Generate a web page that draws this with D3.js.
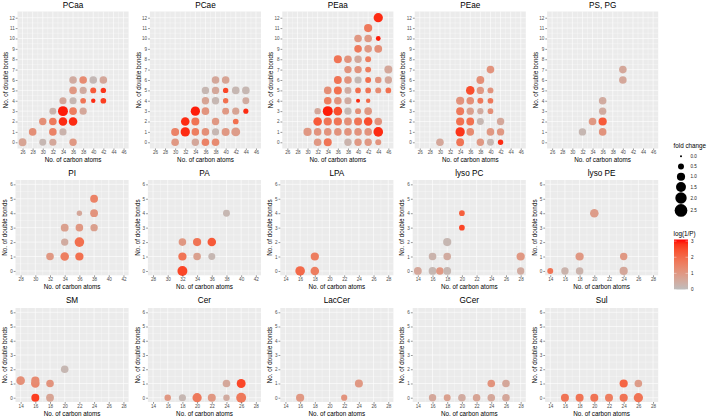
<!DOCTYPE html>
<html><head><meta charset="utf-8">
<script src="https://cdn.jsdelivr.net/npm/d3@7"></script>
<style>
body{margin:0;background:#fff}
svg{display:block}
text{font-family:"Liberation Sans",Arial,Helvetica,sans-serif}
</style>
</head><body>
<svg id="chart" width="709" height="417"></svg>
<script>
// ---------- DATA: [carbon atoms, double bonds, fold change, log(1/P)] ----------
const PCaa = [
 [36,6,.85,.5],[38,6,.85,1.3],[40,6,.85,.15],[42,6,.85,.6],
 [36,5,.85,1.0],[38,5,.75,.5],[40,5,.5,2.3],[42,5,.4,2.8],
 [34,4,.75,.6],[36,4,.75,.2],[38,4,.45,1.8],[40,4,.25,2.9],[42,4,.45,2.7],
 [32,3,.7,.3],[34,3,1.5,3.0],[36,3,.85,1.6],[38,3,.75,.6],
 [30,2,.8,1.2],[32,2,.85,1.7],[34,2,1.1,2.9],[36,2,1.1,2.9],
 [28,1,.85,1.2],[32,1,.85,1.5],[34,1,.75,.3],
 [26,0,.9,.7],[30,0,.7,.2],[32,0,.75,.6],[36,0,.8,1.0]
];
const PCae = [
 [38,6,.85,.6],[40,6,.85,.7],
 [36,5,.8,.2],[38,5,.8,.6],[40,5,.4,2.6],[42,5,.85,.2],[44,5,.85,.2],
 [36,4,.8,.7],[38,4,.8,.2],[40,4,.4,1.9],[44,4,.7,.5],
 [34,3,1.3,3.0],[36,3,.85,1.1],[40,3,.7,1.0],[42,3,.75,.7],[44,3,.35,2.9],
 [32,2,1.1,2.9],[34,2,.95,1.8],[38,2,.8,1.0],[42,2,.45,1.9],
 [30,1,.95,1.5],[32,1,1.3,2.9],[34,1,.85,1.6],[36,1,.85,1.2],[38,1,.75,.2],[40,1,.95,1.0],[42,1,1.2,.9],
 [30,0,.85,1.0],[34,0,.8,.6],[36,0,.85,1.5],[38,0,.85,1.3]
];
const PEaa = [
 [44,12,1.3,2.9],
 [42,11,1.0,1.7],
 [40,10,.85,1.0],[42,10,.85,1.0],[44,10,.3,3.0],
 [40,9,.85,1.7],[42,9,.85,1.0],[44,9,.9,1.2],
 [36,8,.95,1.8],[38,8,.85,1.1],[40,8,.8,.6],[42,8,.5,1.6],
 [38,7,.8,1.1],[40,7,.8,1.1],[42,7,.5,1.6],[46,7,.95,.6],
 [36,6,.9,1.8],[38,6,.85,1.1],[40,6,.75,.2],[42,6,.5,1.9],[44,6,.6,1.1],[46,6,.8,.6],
 [34,5,.85,1.2],[36,5,.95,1.9],[38,5,.7,.5],[40,5,.45,1.9],[42,5,.45,1.8],[44,5,.5,1.3],[46,5,.45,1.9],
 [34,4,.85,1.6],[36,4,.85,1.1],[38,4,.75,.5],[40,4,.2,2.9],[42,4,.25,2.0],
 [32,3,.6,.6],[34,3,1.5,3.0],[36,3,1.1,2.5],[38,3,.75,.2],[40,3,.5,1.2],[42,3,.85,1.0],
 [32,2,1.1,2.3],[34,2,1.0,1.8],[36,2,1.0,1.8],[38,2,.9,1.2],[40,2,.95,1.8],[42,2,1.1,2.5],[44,2,.85,1.1],
 [30,1,1.0,1.0],[32,1,.85,1.1],[34,1,.85,1.1],[36,1,.85,1.1],[38,1,.85,1.1],[40,1,.85,1.1],[42,1,.85,1.1],[44,1,1.4,2.9],
 [32,0,.85,1.0],[34,0,.95,1.8],[38,0,.8,.3],[40,0,.8,1.0],[42,0,.8,1.0],[44,0,.5,1.1]
];
const PEae = [
 [40,7,.85,1.1],
 [38,6,.9,1.2],
 [36,5,1.1,2.5],[38,5,.8,1.0],[40,5,.5,1.1],
 [34,4,1.0,1.1],[36,4,.85,1.2],[38,4,.5,1.7],[40,4,.45,1.7],
 [34,3,.95,1.7],[36,3,.8,.8],[38,3,.55,.5],[40,3,.45,1.2],
 [34,2,1.0,1.9],[36,2,.9,1.9],[38,2,.7,.2],[42,2,.8,.6],
 [34,1,1.3,2.8],[36,1,.85,1.3],[40,1,.85,1.0],[42,1,.8,1.0],
 [30,0,.85,.6],[34,0,.9,1.8],[38,0,.8,1.0],[40,0,.7,.2],[42,0,.4,2.9]
];
const PSPG = [
 [32,1,.8,.2],[34,2,.85,1.0],[36,2,1.0,2.3],[36,1,.85,1.1],[36,3,.8,.5],[36,4,.85,.5],[40,6,.85,.6],[40,7,.85,.6]
];
const PI = [
 [32,1,.85,1.0],[34,1,1.1,1.6],[34,2,.8,.5],[34,3,.9,.8],[36,1,1.0,1.9],[36,2,1.4,1.9],
 [36,3,.85,1.0],[36,4,.4,.6],[38,3,.8,.8],[38,4,.9,1.1],[38,5,.9,1.5]
];
const PA = [
 [32,0,1.5,2.6],[32,1,1.0,1.8],[32,2,.85,1.0],[34,2,1.0,1.8],[34,1,.85,.8],[36,2,1.1,2.3],[36,1,.7,.2],[38,4,.7,.2]
];
const LPA = [[16,0,1.4,2.0],[18,0,1.1,1.6],[18,1,1.0,1.6]];
const lysoPC = [
 [14,0,.9,.6],[16,0,.9,.2],[16,1,.85,.3],[17,0,.85,1.0],[18,0,.9,.2],[18,1,.85,.5],[18,2,1.0,.2],
 [20,3,.45,2.6],[20,4,.45,2.2],[28,1,1.0,1.0],[28,0,.8,.5]
];
const lysoPE = [[14,0,.5,1.8],[16,0,.8,.3],[18,0,.85,.3],[18,1,1.0,1.0],[20,4,1.1,.9],[24,1,.8,1.0],[24,0,1.0,.6]];
const SM = [[14,1.2,1.1,1.2],[16,1.0,1.1,1.4],[16,1.2,1.0,1.3],[16,0,.95,2.7],[18,1,.85,1.1],[18,0,.9,.7],[20,2,.85,.2]];
const Cer = [[16,0,.6,1.0],[18,0,.75,.2],[20,0,1.3,1.7],[22,0,.95,1.0],[24,0,.6,.5],[24,1,.85,.6],[26,1,1.2,2.6],[26,0,1.5,1.7]];
const LacCer = [[16,0,1.0,1.0],[22,0,.55,1.1],[24,1,.95,1.0]];
const GCer = [[16,0,.8,.6],[18,0,.7,.8],[20,0,.85,.5],[22,0,.85,.7],[24,0,.85,.6],[24,1,.85,1.1],[26,0,.85,.6],[26,1,.85,.6]];
const Sul = [[16,0,.95,1.8],[18,0,.95,1.8],[20,0,.95,1.8],[22,0,.95,1.6],[24,0,1.0,1.8],[24,1,1.0,2.1],[26,0,1.3,1.8],[26,1,.85,.9]];

// ---------- Tick labels ----------
const carbonTicksA = [26,28,30,32,34,36,38,40,42,44,46];
const carbonTicksB = [28,30,32,34,36,38,40,42];
const carbonTicksC = [14,16,18,20,22,24,26,28];
const bondTicks12 = [0,1,2,3,4,5,6,7,8,9,10,11,12];
const bondTicks6 = [0,1,2,3,4,5,6];
const foldChangeBreaks = [0.0,0.5,1.0,1.5,2.0,2.5];
const logPBreaks = [0,1,2,3];

const panelTitles = ["PCaa","PCae","PEaa","PEae","PS, PG","PI","PA","LPA","lyso PC","lyso PE","SM","Cer","LacCer","GCer","Sul"];
const panelData = [PCaa,PCae,PEaa,PEae,PSPG,PI,PA,LPA,lysoPC,lysoPE,SM,Cer,LacCer,GCer,Sul];
const panelXTicks = [carbonTicksA,carbonTicksA,carbonTicksA,carbonTicksA,carbonTicksA,
  carbonTicksB,carbonTicksB,carbonTicksC,carbonTicksC,carbonTicksC,
  carbonTicksC,carbonTicksC,carbonTicksC,carbonTicksC,carbonTicksC];

// ---------- Layout ----------
const svg = d3.select("#chart");
const colW = 132.4;
const rows = [
  {top:11.5, bottom:148.5, titleBase:8.3, axisTitleBase:162.2, left:17.5, yTicks:bondTicks12, yLabX:5.6},
  {top:180,  bottom:275.3, titleBase:176.3, axisTitleBase:289.3, left:15.5, yTicks:bondTicks6, yLabX:4.6},
  {top:308,  bottom:402,   titleBase:303.3, axisTitleBase:416.4, left:15.5, yTicks:bondTicks6, yLabX:4.6}
];
const rightOff = 128.6;

const colour = d3.scaleLinear().domain([0,3.1]).range(["#BEBEBE","#FF0000"]).interpolate(d3.interpolateLab);
const area = d3.scaleLinear().domain([0,2.7]).range([1,43.6]);
const rad = v => Math.sqrt(area(v));

function expand(t){const lo=d3.min(t),hi=d3.max(t),e=(hi-lo)*0.05;return [lo-e,hi+e];}

panelTitles.forEach((title,i)=>{
  const r = rows[Math.floor(i/5)], c = i%5;
  const x0 = c*colW;
  const L = x0 + r.left, R = x0 + rightOff;
  const xt = panelXTicks[i], yt = r.yTicks;
  const x = d3.scaleLinear().domain(expand(xt)).range([L,R]);
  const y = d3.scaleLinear().domain(expand(yt)).range([r.bottom,r.top]);
  const g = svg.append("g");
  g.append("rect").attr("x",L).attr("y",r.top).attr("width",R-L).attr("height",r.bottom-r.top).attr("fill","#EBEBEB");
  // minor grid
  const xMinor = xt.slice(0,-1).map((v,k)=>(v+xt[k+1])/2);
  const yMinor = yt.slice(0,-1).map((v,k)=>(v+yt[k+1])/2);
  g.selectAll(null).data(xMinor).enter().append("line")
    .attr("x1",d=>x(d)).attr("x2",d=>x(d)).attr("y1",r.top).attr("y2",r.bottom)
    .attr("stroke","#fff").attr("stroke-width",0.3);
  g.selectAll(null).data(yMinor).enter().append("line")
    .attr("y1",d=>y(d)).attr("y2",d=>y(d)).attr("x1",L).attr("x2",R)
    .attr("stroke","#fff").attr("stroke-width",0.3);
  g.selectAll(null).data(xt).enter().append("line")
    .attr("x1",d=>x(d)).attr("x2",d=>x(d)).attr("y1",r.top).attr("y2",r.bottom)
    .attr("stroke","#fff").attr("stroke-width",0.6);
  g.selectAll(null).data(yt).enter().append("line")
    .attr("y1",d=>y(d)).attr("y2",d=>y(d)).attr("x1",L).attr("x2",R)
    .attr("stroke","#fff").attr("stroke-width",0.6);
  // points
  g.selectAll(null).data(panelData[i]).enter().append("circle")
    .attr("cx",d=>x(d[0])).attr("cy",d=>y(d[1])).attr("r",d=>rad(d[2]))
    .attr("fill",d=>colour(d[3]));
  // axes
  const ax = g.append("g").attr("transform",`translate(0,${r.bottom})`)
    .call(d3.axisBottom(x).tickValues(xt).tickSize(1.8).tickPadding(0.9).tickFormat(d3.format("d")));
  const ay = g.append("g").attr("transform",`translate(${L},0)`)
    .call(d3.axisLeft(y).tickValues(yt).tickSize(1.8).tickPadding(1).tickFormat(d3.format("d")));
  [ax,ay].forEach(a=>{
    a.select(".domain").remove();
    a.selectAll(".tick line").attr("stroke","#333").attr("stroke-width",0.5);
    a.selectAll(".tick text").attr("fill","#4D4D4D").style("font-size","4.6px").style("font-family","'Liberation Sans',Arial,sans-serif");
  });
  // titles
  g.append("text").attr("x",(L+R)/2).attr("y",r.titleBase).attr("text-anchor","middle")
    .style("font-size","8.2px").attr("fill","#000").text(title);
  g.append("text").attr("x",(L+R)/2).attr("y",r.axisTitleBase).attr("text-anchor","middle")
    .style("font-size","6.3px").attr("fill","#000").text("No. of carbon atoms");
  g.append("text").attr("transform",`translate(${x0+r.yLabX},${(r.top+r.bottom)/2}) rotate(-90)`)
    .attr("text-anchor","middle").attr("dominant-baseline","central")
    .style("font-size","6.3px").attr("fill","#000").text("No. of double bonds");
});

// ---------- Legends ----------
const lg = svg.append("g");
const legX = 673.5;
lg.append("text").attr("x",legX).attr("y",148).style("font-size","6.3px").attr("fill","#000").text("fold change");
let yy = 151;
foldChangeBreaks.forEach(v=>{
  const rr = rad(v), h = Math.max(10.3, 2*rr+0.3), cy = yy + h/2;
  lg.append("circle").attr("cx",legX+7.5).attr("cy",cy).attr("r",rr).attr("fill","#000");
  lg.append("text").attr("x",legX+17).attr("y",cy).attr("dominant-baseline","central")
    .style("font-size","4.6px").attr("fill","#222").text(d3.format(".1f")(v));
  yy += h;
});
lg.append("text").attr("x",legX).attr("y",235.5).style("font-size","6.3px").attr("fill","#000").text("log(1/P)");
const barY = d3.scaleLinear().domain([0,3.1]).range([289.5,239.5]);
const defs = svg.append("defs");
const grad = defs.append("linearGradient").attr("id","lg1").attr("x1",0).attr("y1",1).attr("x2",0).attr("y2",0);
d3.range(0,1.0001,0.1).forEach(t=>{
  grad.append("stop").attr("offset",t).attr("stop-color",colour(t*3.1));
});
lg.append("rect").attr("x",legX+0.5).attr("y",barY(3.1)).attr("width",14).attr("height",barY(0)-barY(3.1)).attr("fill","url(#lg1)");
logPBreaks.forEach(v=>{
  lg.append("line").attr("x1",legX+0.5).attr("x2",legX+3).attr("y1",barY(v)).attr("y2",barY(v)).attr("stroke","#fff").attr("stroke-width",0.4);
  lg.append("line").attr("x1",legX+12).attr("x2",legX+14.5).attr("y1",barY(v)).attr("y2",barY(v)).attr("stroke","#fff").attr("stroke-width",0.4);
  lg.append("text").attr("x",legX+17.5).attr("y",barY(v)).attr("dominant-baseline","central")
    .style("font-size","4.6px").attr("fill","#222").text(v);
});
</script>
</body></html>
